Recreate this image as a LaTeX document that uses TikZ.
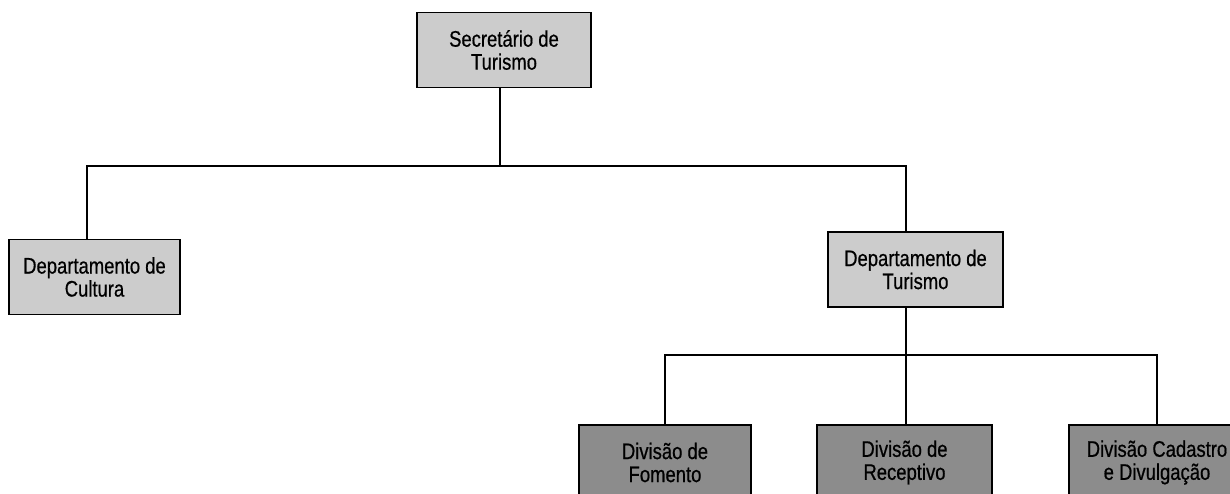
\documentclass[tikz,border=0pt]{standalone}
\usepackage{fontspec}
\setmainfont{Liberation Sans}[FakeStretch=0.82,UprightFeatures={FakeBold=0.6}]
\begin{document}
\begin{tikzpicture}[x=1pt,y=-1pt,
  box/.style={draw=black, line width=1.8pt, fill=#1, minimum height=75pt,
    inner sep=0pt, align=center, font=\fontsize{22.5}{23}\selectfont},
  box/.default={black!20},
  link/.style={line width=1.5pt}]
\useasboundingbox (0,0) rectangle (1230,493);
\clip (0,0) rectangle (1230,493);
% nodes
\node[box, minimum width=174pt] (sec) at (504,50) {Secretário de\\Turismo};
\node[box, minimum width=171pt] (cul) at (94.5,277) {Departamento de\\Cultura};
\node[box, minimum width=175pt] (tur) at (915.5,269.5) {Departamento de\\Turismo};
\node[box=black!45, minimum width=172pt] (fom) at (665,462.5) {Divisão de\\Fomento};
\node[box=black!45, minimum width=175pt] (rec) at (904.5,462.5) {Divisão de\\Receptivo};
\node[box=black!45, minimum width=176pt] (cad) at (1157,462.5) {Divisão Cadastro\\e Divulgação};
% junction coordinates
\coordinate (b0) at (500,166);
\coordinate (bl) at (87,166);
\coordinate (br) at (906,166);
\coordinate (c0) at (906,355);
\coordinate (cl) at (665,355);
\coordinate (cr) at (1157,355);
% connectors
\draw[link] (b0 |- sec.south) -- (b0);
\draw[link] (bl |- cul.north) -- (bl) -- (br) -- (br |- tur.north);
\draw[link] (c0 |- tur.south) -- (c0);
\draw[link] (cl |- fom.north) -- (cl) -- (cr) -- (cr |- cad.north);
\draw[link] (c0) -- (c0 |- rec.north);
\end{tikzpicture}
\end{document}
